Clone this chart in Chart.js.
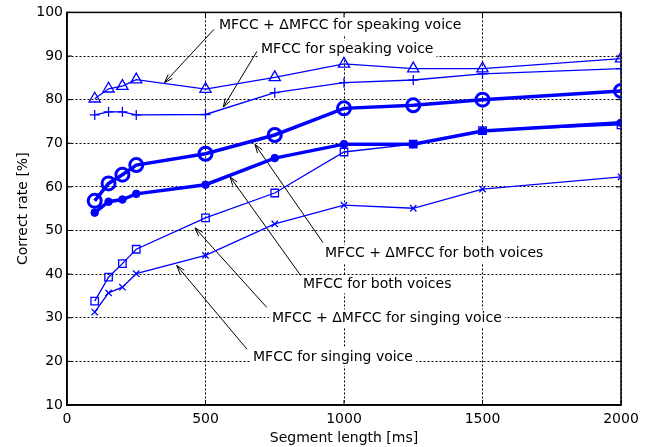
<!DOCTYPE html>
<html>
<head>
<meta charset="utf-8">
<script src="https://cdn.jsdelivr.net/npm/chart.js@4.4.1/dist/chart.umd.min.js"></script>
<style>
  html, body { margin: 0; padding: 0; background: #fff; }
  #wrap { width: 656px; height: 447px; }
</style>
</head>
<body>
<div id="wrap"><canvas id="dataChart" width="656" height="447"></canvas></div>
<script>
// segment lengths [ms]
const segLengths = [100, 150, 200, 250, 500, 750, 1000, 1250, 1500, 2000];

// correct rate [%] per feature set
const deltaSpeaking = [80.2, 82.5, 83.1, 84.6, 82.4, 85.1, 88.2, 87.1, 87.1, 89.4];
const mfccSpeaking  = [76.5, 77.2, 77.2, 76.5, 76.6, 81.6, 83.9, 84.5, 85.9, 87.1];
const deltaBoth     = [56.8, 60.8, 62.8, 65.0, 67.6, 71.9, 78.0, 78.7, 80.0, 82.0];
const mfccBoth      = [54.1, 56.6, 57.1, 58.4, 60.5, 66.6, 69.8, 69.8, 72.8, 74.7];
const deltaSinging  = [33.8, 39.3, 42.4, 45.7, 52.9, 58.6, 68.0, 69.8, 72.9, 74.2];
const mfccSinging   = [31.3, 35.7, 37.0, 40.1, 44.3, 51.5, 55.8, 55.1, 59.5, 62.3];

const xTicks = [0, 500, 1000, 1500, 2000];
const yTicks = [10, 20, 30, 40, 50, 60, 70, 80, 90, 100];

// callout labels (text start / arrow tail / arrow tip, in data units)
const annTexts = [
  'MFCC + \u0394MFCC for speaking voice',
  'MFCC for speaking voice',
  'MFCC + \u0394MFCC for both voices',
  'MFCC for both voices',
  'MFCC + \u0394MFCC for singing voice',
  'MFCC for singing voice'
];
const annTextX = [548.7, 700.4, 931.4, 852.0, 740.0, 671.5];
const annTextY = [96.96, 91.48, 44.65, 37.64, 29.87, 21.03];
const annTailX = [530.7, 685.9, 924.2, 843.7, 721.0, 649.8];
const annTailY = [96.11, 91.09, 47.23, 39.69, 32.39, 22.79];
const annTipX  = [352.0, 564.3, 678.7, 588.4, 462.1, 396.0];
const annTipY  = [83.89, 78.30, 69.73, 62.31, 50.59, 41.98];

const BLUE = '#0000ff';

function pts(values) {
    return segLengths.map((x, i) => ({ x: x, y: values[i] }));
}

Chart.defaults.font.family = '"DejaVu Sans", sans-serif';
Chart.defaults.font.size = 14;
Chart.defaults.color = '#000';

// frame, inward tick marks and callouts
const framePlugin = {
    id: 'frame',
    beforeDatasetsDraw(chart) {
        const ctx = chart.ctx;
        const a = chart.chartArea;
        const xs = chart.scales.x;
        const ys = chart.scales.y;
        ctx.save();

        // callout boxes + text + arrows
        ctx.font = '14px "DejaVu Sans", sans-serif';
        ctx.textBaseline = 'middle';
        ctx.textAlign = 'left';
        for (let i = 0; i < annTexts.length; i++) {
            const tx = xs.getPixelForValue(annTextX[i]);
            const ty = ys.getPixelForValue(annTextY[i]);
            const w = ctx.measureText(annTexts[i]).width;
            ctx.fillStyle = '#fff';
            ctx.fillRect(tx - 3, ty - 9, w + 6, 18);
            ctx.fillStyle = '#000';
            ctx.fillText(annTexts[i], tx, ty);

            const x1 = xs.getPixelForValue(annTailX[i]);
            const y1 = ys.getPixelForValue(annTailY[i]);
            const x2 = xs.getPixelForValue(annTipX[i]);
            const y2 = ys.getPixelForValue(annTipY[i]);
            ctx.strokeStyle = '#000';
            ctx.lineWidth = 1;
            ctx.beginPath();
            ctx.moveTo(x1, y1);
            ctx.lineTo(x2, y2);
            const ang = Math.atan2(y1 - y2, x1 - x2);
            const len = 9;
            ctx.moveTo(x2 + len * Math.cos(ang - 0.32), y2 + len * Math.sin(ang - 0.32));
            ctx.lineTo(x2, y2);
            ctx.lineTo(x2 + len * Math.cos(ang + 0.32), y2 + len * Math.sin(ang + 0.32));
            ctx.stroke();
        }

        // tick marks
        ctx.strokeStyle = '#000';
        ctx.lineWidth = 1;
        ctx.beginPath();
        yTicks.forEach(v => {
            const y = ys.getPixelForValue(v);
            ctx.moveTo(a.left, y); ctx.lineTo(a.left + 5, y);
            ctx.moveTo(a.right, y); ctx.lineTo(a.right - 5, y);
        });
        xTicks.forEach(v => {
            const x = xs.getPixelForValue(v);
            ctx.moveTo(x, a.bottom); ctx.lineTo(x, a.bottom - 5);
            ctx.moveTo(x, a.top); ctx.lineTo(x, a.top + 5);
        });
        ctx.stroke();

        // box
        ctx.lineWidth = 1.5;
        ctx.strokeRect(a.left, a.top, a.right - a.left, a.bottom - a.top);
        ctx.restore();
    }
};

var chartData = {
    datasets: [{
        label: 'MFCC + dMFCC for speaking voice',
        data: pts(deltaSpeaking),
        borderColor: BLUE,
        borderWidth: 1.3,
        pointStyle: 'triangle',
        pointRadius: 6.5,
        pointBorderWidth: 1.3,
        pointBorderColor: BLUE,
        pointBackgroundColor: 'rgba(0,0,0,0)'
    }, {
        label: 'MFCC for speaking voice',
        data: pts(mfccSpeaking),
        borderColor: BLUE,
        borderWidth: 1.3,
        pointStyle: 'cross',
        pointRadius: 5,
        pointBorderWidth: 1.3,
        pointBorderColor: BLUE
    }, {
        label: 'MFCC + dMFCC for both voices',
        data: pts(deltaBoth),
        borderColor: BLUE,
        borderWidth: 3.5,
        pointStyle: 'circle',
        pointRadius: 6.5,
        pointBorderWidth: 3,
        pointBorderColor: BLUE,
        pointBackgroundColor: 'rgba(0,0,0,0)'
    }, {
        label: 'MFCC for both voices',
        data: pts(mfccBoth),
        borderColor: BLUE,
        borderWidth: 3.5,
        pointStyle: 'circle',
        pointRadius: 3.8,
        pointBorderWidth: 1,
        pointBorderColor: BLUE,
        pointBackgroundColor: BLUE
    }, {
        label: 'MFCC + dMFCC for singing voice',
        data: pts(deltaSinging),
        borderColor: BLUE,
        borderWidth: 1.3,
        pointStyle: 'rect',
        pointRadius: 5.3,
        pointBorderWidth: 1.3,
        pointBorderColor: BLUE,
        pointBackgroundColor: 'rgba(0,0,0,0)'
    }, {
        label: 'MFCC for singing voice',
        data: pts(mfccSinging),
        borderColor: BLUE,
        borderWidth: 1.3,
        pointStyle: 'crossRot',
        pointRadius: 4.5,
        pointBorderWidth: 1.3,
        pointBorderColor: BLUE
    }]
};

var chartOptions = {
    responsive: false,
    animation: false,
    layout: { padding: { left: 0, right: 35, top: 11, bottom: 0 } },
    scales: {
        x: {
            type: 'linear',
            min: 0,
            max: 2000,
            afterFit: s => { s.height = 42; },
            afterBuildTicks: s => { s.ticks = xTicks.map(v => ({ value: v })); },
            ticks: { padding: 6, color: '#000', maxRotation: 0, callback: v => String(v) },
            grid: { color: '#000', lineWidth: 1, drawTicks: false },
            border: { color: '#000', width: 1.5, dash: [2, 2] },
            title: { display: true, text: 'Segment length [ms]', color: '#000', padding: { top: 0, bottom: 0 } }
        },
        y: {
            min: 10,
            max: 100,
            afterFit: s => { s.width = 67; },
            afterBuildTicks: s => { s.ticks = yTicks.map(v => ({ value: v })); },
            ticks: { padding: 4, color: '#000', callback: v => String(v) },
            grid: { color: '#000', lineWidth: 1, drawTicks: false },
            border: { color: '#000', width: 1.5, dash: [2, 2] },
            title: { display: true, text: 'Correct rate [%]', color: '#000', padding: { top: 15, bottom: 0 } }
        }
    },
    plugins: {
        legend: { display: false },
        tooltip: { enabled: false }
    }
};

const ctx = document.getElementById('dataChart');
var myChart = new Chart(ctx, {
    type: 'line',
    data: chartData,
    options: chartOptions,
    plugins: [framePlugin]
});
</script>
</body>
</html>
